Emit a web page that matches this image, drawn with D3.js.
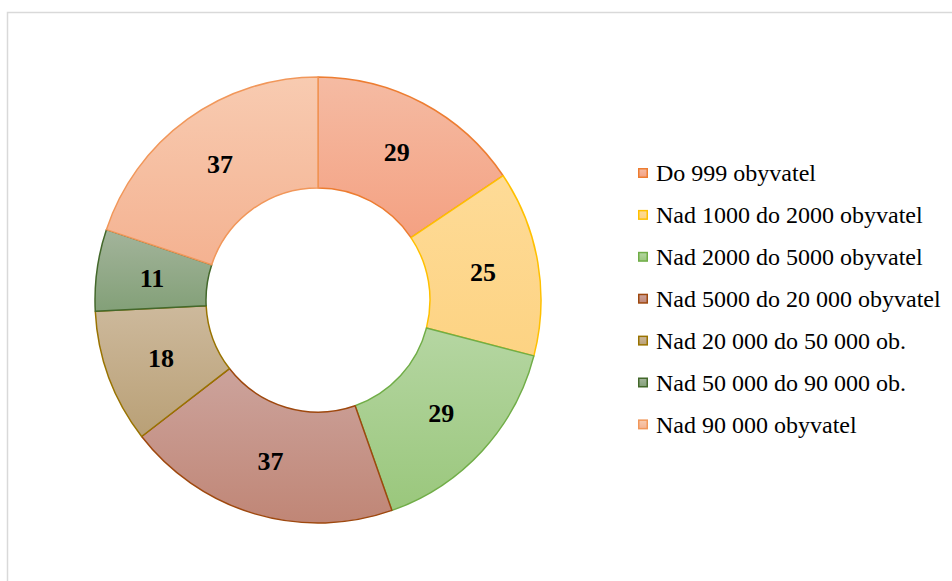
<!DOCTYPE html>
<html>
<head>
<meta charset="utf-8">
<script src="https://cdn.jsdelivr.net/npm/d3@7"></script>
<style>
  body { margin: 0; background: #fff; }
  #chart { width: 952px; height: 581px; }
</style>
</head>
<body>
<div id="chart"></div>
<script>
// data
const categories = ["Do 999 obyvatel", "Nad 1000 do 2000 obyvatel", "Nad 2000 do 5000 obyvatel",
    "Nad 5000 do 20 000 obyvatel", "Nad 20 000 do 50 000 ob.", "Nad 50 000 do 90 000 ob.", "Nad 90 000 obyvatel"];
const values = [29, 25, 29, 37, 18, 11, 37];

// per slice: gradient top, gradient bottom, outline
const topColors = ["#f5bba3", "#fedb97", "#b5d6a2", "#cca39c", "#cdb99c", "#a3b49b", "#f8cbb1"];
const bottomColors = ["#f4a182", "#fdd383", "#9ac77c", "#c08676", "#b9a076", "#83a078", "#f4b291"];
const strokeColors = ["#ed7d31", "#ffc000", "#70ad47", "#9e480e", "#997300", "#43682b", "#f1975a"];

const width = 952, height = 581;
const cx = 318, cy = 300, outerR = 223, innerR = 112;

let svg = d3.select("#chart")
    .append("svg")
    .attr("width", width)
    .attr("height", height);

// chart frame (runs off the right and bottom edge)
svg.append("rect")
    .attr("x", 7.5).attr("y", 12.5)
    .attr("width", 1000).attr("height", 1000)
    .attr("fill", "none")
    .attr("stroke", "#d9d9d9")
    .attr("stroke-width", 1.5);

// gradients
let defs = svg.append("defs");
categories.forEach((c, i) => {
    let g = defs.append("linearGradient")
        .attr("id", "grad" + i)
        .attr("x1", 0).attr("y1", 0).attr("x2", 0).attr("y2", 1);
    g.append("stop").attr("offset", "0%").attr("stop-color", topColors[i]);
    g.append("stop").attr("offset", "100%").attr("stop-color", bottomColors[i]);
});

let pie = d3.pie().sort(null).value(d => d);
let arc = d3.arc().innerRadius(innerR).outerRadius(outerR);
let labelArc = d3.arc().innerRadius((innerR + outerR) / 2).outerRadius((innerR + outerR) / 2);

let donut = svg.append("g")
    .attr("transform", "translate(" + cx + "," + cy + ")");

let arcs = pie(values);

donut.selectAll("path")
    .data(arcs)
    .enter()
    .append("path")
    .attr("d", arc)
    .attr("fill", (d, i) => "url(#grad" + i + ")")
    .attr("stroke", (d, i) => strokeColors[i])
    .attr("stroke-width", 1.5)
    .attr("stroke-linejoin", "round");

donut.selectAll("text")
    .data(arcs)
    .enter()
    .append("text")
    .attr("transform", d => "translate(" + labelArc.centroid(d) + ")")
    .attr("text-anchor", "middle")
    .attr("dy", "0.35em")
    .style("font-family", "'Liberation Serif', 'Times New Roman', serif")
    .style("font-weight", "bold")
    .style("font-size", "26px")
    .attr("fill", "#000")
    .text(d => d.data);

// legend
let legend = svg.append("g")
    .attr("transform", "translate(638,173)");

let items = legend.selectAll("g")
    .data(categories)
    .enter()
    .append("g")
    .attr("transform", (d, i) => "translate(0," + (i * 41.9) + ")");

items.append("rect")
    .attr("x", 0.75).attr("y", -4.25)
    .attr("width", 8.5).attr("height", 8.5)
    .attr("fill", (d, i) => "url(#grad" + i + ")")
    .attr("stroke", (d, i) => strokeColors[i])
    .attr("stroke-width", 1.5);

items.append("text")
    .attr("x", 18)
    .attr("dy", "0.35em")
    .style("font-family", "'Liberation Serif', 'Times New Roman', serif")
    .style("font-size", "24px")
    .attr("fill", "#000")
    .text(d => d);
</script>
</body>
</html>
